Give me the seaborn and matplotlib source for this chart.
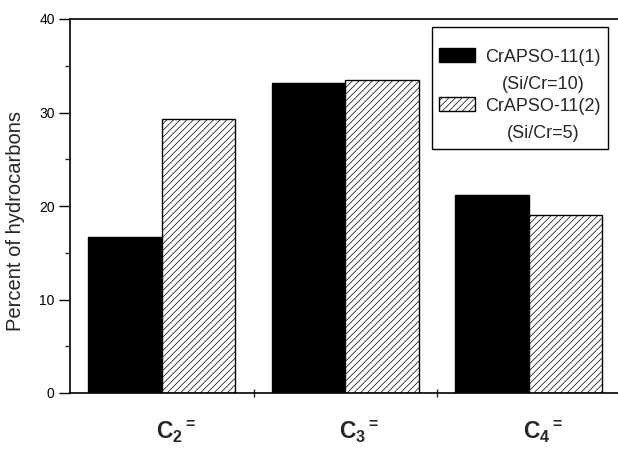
import matplotlib
matplotlib.use("Agg")
import matplotlib.pyplot as plt
import matplotlib.transforms as mtransforms
from matplotlib.patches import Rectangle
from matplotlib.legend_handler import HandlerPatch
import seaborn as sns
import pandas as pd

# Product distribution of light olefins for the two catalysts
categories = ["C2", "C3", "C4"]
tick_labels = [r"$\mathbf{C}_{\mathbf{2}}{}^{\mathbf{=}}$",
               r"$\mathbf{C}_{\mathbf{3}}{}^{\mathbf{=}}$",
               r"$\mathbf{C}_{\mathbf{4}}{}^{\mathbf{=}}$"]
series_names = ["CrAPSO-11(1)\n(Si/Cr=10)", "CrAPSO-11(2)\n(Si/Cr=5)"]
catalyst1_values = [16.7, 33.2, 21.2]
catalyst2_values = [29.3, 33.5, 19.0]

df = pd.DataFrame({
    "olefin": categories * 2,
    "catalyst": [series_names[0]] * 3 + [series_names[1]] * 3,
    "percent": catalyst1_values + catalyst2_values,
})

sns.set_theme(style="ticks")
plt.rcParams["font.family"] = ["Liberation Sans", "DejaVu Sans"]
plt.rcParams["mathtext.fontset"] = "custom"
plt.rcParams["mathtext.rm"] = "Liberation Sans"
plt.rcParams["mathtext.bf"] = "Liberation Sans:bold"
plt.rcParams["hatch.linewidth"] = 0.5

HATCH = "/////"
LEG_FS = 13
LEG_LINESPACING = 1.8

fig = plt.figure(figsize=(6.18, 4.51), dpi=100)
ax = fig.add_axes([70 / 618, 58 / 451, 550.5 / 618, 374 / 451])

sns.barplot(data=df, x="olefin", y="percent", hue="catalyst",
            palette=["black", "white"], width=0.8, gap=0,
            edgecolor="black", linewidth=1.0, saturation=1,
            ax=ax)

for bar in ax.containers[1]:
    bar.set_hatch(HATCH)
    bar.set_edgecolor("black")

ax.set_xlim(-0.5, 2.5)
ax.set_ylim(0, 40)
ax.set_yticks([0, 10, 20, 30, 40])
ax.set_yticks([5, 15, 25, 35], minor=True)
ax.set_xticks([0, 1, 2])
ax.set_xticklabels(tick_labels, fontsize=16.5, ha="left")
ax.set_xticks([0.5, 1.5], minor=True)

ax.tick_params(axis="y", which="major", direction="out", length=8,
               width=1, labelsize=10, pad=3, colors="black")
ax.tick_params(axis="y", which="minor", direction="out", length=3.6, width=1)
ax.tick_params(axis="x", which="major", length=0, pad=19)
ax.tick_params(axis="x", which="minor", direction="inout", length=6, width=1)

offset = mtransforms.ScaledTranslation(-6 / 100, 0, fig.dpi_scale_trans)
for lbl in ax.get_xticklabels():
    lbl.set_transform(lbl.get_transform() + offset)

ax.set_xlabel("")
ax.set_ylabel("Percent of hydrocarbons", fontsize=14.5)
ax.yaxis.set_label_coords(-0.082, 0.46)

for side in ["left", "bottom", "top"]:
    ax.spines[side].set_visible(True)
    ax.spines[side].set_linewidth(1.2)
    ax.spines[side].set_color("black")
ax.spines["right"].set_visible(False)


def first_line_patch(legend, orig_handle, xdescent, ydescent, width, height, fontsize):
    # lift the swatch so it sits beside the first line of a two-line label
    lift = 0.5 * LEG_LINESPACING * fontsize * 1.15 - 2.0
    return Rectangle((-xdescent, -ydescent + lift), width, height)


handles, labels = ax.get_legend_handles_labels()
leg = ax.legend(handles, labels, loc="upper right",
                bbox_to_anchor=(608 / 618, 1 - 27 / 451),
                bbox_transform=fig.transFigure, fontsize=LEG_FS, frameon=True,
                fancybox=False, edgecolor="black", framealpha=1,
                handlelength=2.0, handleheight=0.85, handletextpad=0.55,
                borderpad=0.4, labelspacing=0.25, borderaxespad=0,
                title=" ", title_fontsize=7.5,
                handler_map={h: HandlerPatch(patch_func=first_line_patch) for h in handles})
leg.get_frame().set_linewidth(1.0)
for txt in leg.get_texts():
    txt.set_multialignment("center")
    txt.set_linespacing(LEG_LINESPACING)
leg.legend_handles[0].set_facecolor("black")
leg.legend_handles[0].set_edgecolor("black")
leg.legend_handles[1].set_facecolor("white")
leg.legend_handles[1].set_edgecolor("black")
leg.legend_handles[1].set_hatch(HATCH)

fig.savefig("out.png", dpi=100)
